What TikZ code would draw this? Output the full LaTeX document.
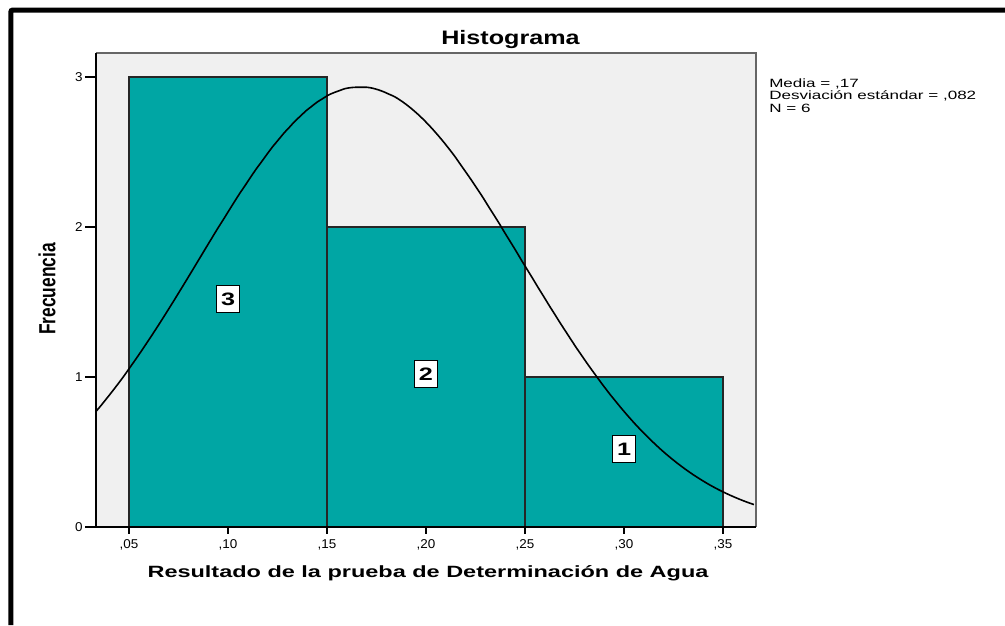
\documentclass[tikz,border=0pt]{standalone}
\usepackage{fontspec}
\setmainfont{Liberation Sans}
\definecolor{barteal}{RGB}{0,166,164}
\definecolor{plotgrey}{RGB}{240,240,240}
\begin{document}
\begin{tikzpicture}[
    x = 1pt,
    y = -1pt,
    frame/.style = {line width=5pt, rounded corners=2pt},
    bar/.style = {fill=barteal, draw=black!85, line width=1.5pt},
    count/.style = {draw=black, fill=white, line width=1.2pt, xscale=1.4,
              minimum width=16.5pt, minimum height=27pt, inner sep=0pt,
              font=\fontsize{18}{18}\selectfont\bfseries},
    tick/.style = {black, line width=1.2pt},
    ticklabel/.style = {inner sep=1pt, xscale=1.05, font=\fontsize{12.8}{13}\selectfont},
    ]

\useasboundingbox (0,0) rectangle (1005,625);
\draw[frame] (10.8,625) -- (10.8,10) -- (1005,10);

\node[anchor=base, xscale=1.29, font=\fontsize{19.5}{20}\selectfont\bfseries]
    (title) at (510.5,44) {Histograma};
\node[anchor=base west, align=left, xscale=1.42, font=\fontsize{12}{12.5}\selectfont, inner sep=0pt]
    (legend) at (769,112) {Media = ,17\\Desviación estándar = ,082\\N = 6};
\node[anchor=base, xscale=1.44, font=\fontsize{16.3}{17}\selectfont\bfseries]
    (x_label) at (428,577) {Resultado de la prueba de Determinación de Agua};
\node[xscale=1.34, rotate=90, font=\fontsize{17.4}{18}\selectfont\bfseries]
    (y_label) at (47,289) {Frecuencia};

\begin{scope}[shift={(30,527)}, x=1980pt, y=150pt]
\fill[plotgrey] (0.03333,0) rectangle (0.36667,3.16);
\draw[black!60, line width=1.2pt] (0.03333,3.16) -- (0.36667,3.16) -- (0.36667,0);

\foreach \lo/\f [count=\i] in {0.05/3, 0.15/2, 0.25/1}
    \draw[bar] (\lo,0) rectangle ++(0.1,\f);

\begin{scope}
\clip (0.03333,0) rectangle (0.36667,3.16);
\draw[black, line width=1.6pt, domain=0.03333:0.36667, samples=120, smooth]
    plot (\x, {2.9316*exp(-((\x-0.16667)^2)/(2*0.08165^2))});
\end{scope}

\foreach \lo/\f [count=\i] in {0.05/3, 0.15/2, 0.25/1}
    \node[count] (count_\i) at (\lo+0.05, {\f/2+0.02}) {\f};

\draw[tick] (0.03333,3.16) -- (0.03333,0) -- (0.36667,0);
\foreach \f in {0,...,3} {
    \draw[tick] (0.03333,\f) -- ++(-11pt,0);
    \node[ticklabel, anchor=east] (ytick_\f) at ([xshift=-12pt]0.03333,\f) {\f};
}
\foreach \n in {05,10,15,20,25,30,35} {
    \draw[tick] (0.\n,0) -- ++(0,-7pt);
    \node[ticklabel, anchor=base] (xtick_\n) at ([yshift=-21.5pt]0.\n,0) {,\n};
}
\end{scope}

\end{tikzpicture}
\end{document}
